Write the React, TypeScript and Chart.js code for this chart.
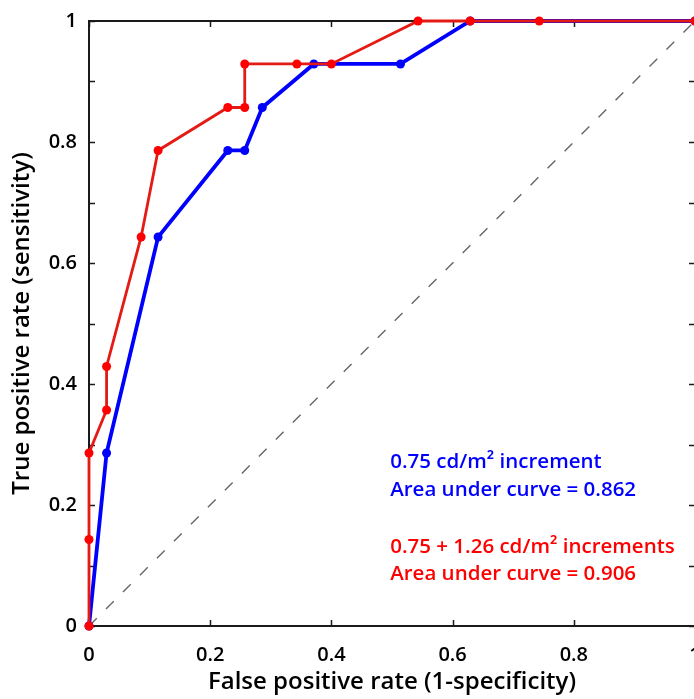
import React, { useEffect, useRef } from 'react';
import { Chart, registerables } from 'chart.js';

Chart.register(...registerables);

// ROC data: false positive rate (x) and true positive rate (y)
const redFPR = [0, 0, 0, 0.029, 0.029, 0.086, 0.114, 0.229, 0.257, 0.257, 0.343, 0.4, 0.543, 0.629, 0.743, 1];
const redTPR = [0, 0.143, 0.286, 0.357, 0.429, 0.643, 0.786, 0.857, 0.857, 0.929, 0.929, 0.929, 1, 1, 1, 1];
const blueFPR = [0, 0.029, 0.114, 0.229, 0.257, 0.286, 0.371, 0.514, 0.629, 1];
const blueTPR = [0, 0.286, 0.643, 0.786, 0.786, 0.857, 0.929, 0.929, 1, 1];
const chanceFPR = [0, 1];
const chanceTPR = [0, 1];

const xMajorTicks = [0, 0.2, 0.4, 0.6, 0.8, 1];
const yMinorTicks = [0, 0.1, 0.2, 0.3, 0.4, 0.5, 0.6, 0.7, 0.8, 0.9, 1];

const blueLabel = ['0.75 cd/m\u00B2 increment', 'Area under curve = 0.862'];
const redLabel = ['0.75 + 1.26 cd/m\u00B2 increments', 'Area under curve = 0.906'];

const xTitle = 'False positive rate (1-specificity)';
const yTitle = 'True positive rate (sensitivity)';

const FONT = "'Open Sans', sans-serif";

const toPoints = (xs: number[], ys: number[]) => xs.map((x, i) => ({ x, y: ys[i] }));

const fmt = (v: number) => {
  const r = Math.round(v * 10) / 10;
  return r === 0 ? '0' : r === 1 ? '1' : String(r);
};

const framePlugin = {
  id: 'frame',
  beforeDatasetsDraw(chart: any) {
    const { ctx, chartArea } = chart;
    const { left, right, top, bottom } = chartArea;
    const xs = chart.scales.x;
    const ys = chart.scales.y;
    ctx.save();
    ctx.strokeStyle = '#1a1a1a';
    ctx.lineWidth = 2;
    ctx.strokeRect(left, top, right - left, bottom - top);
    ctx.lineWidth = 1.5;
    const tl = 6;
    ctx.beginPath();
    xMajorTicks.forEach((v) => {
      const px = Math.round(xs.getPixelForValue(v)) + 0.5;
      ctx.moveTo(px, bottom);
      ctx.lineTo(px, bottom - tl);
      ctx.moveTo(px, top);
      ctx.lineTo(px, top + tl);
    });
    yMinorTicks.forEach((v) => {
      const py = Math.round(ys.getPixelForValue(v)) + 0.5;
      ctx.moveTo(left, py);
      ctx.lineTo(left + tl, py);
      ctx.moveTo(right, py);
      ctx.lineTo(right - tl, py);
    });
    ctx.stroke();
    ctx.restore();
  },
  afterDatasetsDraw(chart: any) {
    const { ctx } = chart;
    const xs = chart.scales.x;
    const ys = chart.scales.y;
    ctx.save();
    ctx.font = `600 20.5px ${FONT}`;
    ctx.textAlign = 'left';
    ctx.textBaseline = 'middle';
    const x0 = xs.getPixelForValue(0.497);
    ctx.fillStyle = '#0000ff';
    ctx.fillText(blueLabel[0], x0, ys.getPixelForValue(0.271));
    ctx.fillText(blueLabel[1], x0, ys.getPixelForValue(0.225));
    ctx.fillStyle = '#ff0000';
    ctx.fillText(redLabel[0], x0, ys.getPixelForValue(0.131));
    ctx.fillText(redLabel[1], x0, ys.getPixelForValue(0.086));
    ctx.restore();
  },
};

export default function App() {
  const ref = useRef<HTMLCanvasElement | null>(null);

  useEffect(() => {
    if (!ref.current) return;
    const chart = new Chart(ref.current, {
      type: 'scatter',
      data: {
        datasets: [
          {
            label: 'red',
            data: toPoints(redFPR, redTPR),
            showLine: true,
            borderColor: '#e41a14',
            borderWidth: 2.8,
            backgroundColor: '#ff0000',
            pointBackgroundColor: '#ff0000',
            pointBorderWidth: 0,
            pointRadius: 4.5,
            clip: false,
          },
          {
            label: 'blue',
            data: toPoints(blueFPR, blueTPR),
            showLine: true,
            borderColor: '#0000ff',
            borderWidth: 3.8,
            backgroundColor: '#0000ff',
            pointBackgroundColor: '#0000ff',
            pointBorderWidth: 0,
            pointRadius: 4.5,
            clip: false,
          },
          {
            label: 'chance',
            data: toPoints(chanceFPR, chanceTPR),
            showLine: true,
            borderColor: '#666',
            borderWidth: 1.4,
            borderDash: [11, 13],
            pointRadius: 0,
            clip: false,
          },
        ],
      },
      options: {
        animation: false,
        responsive: false,
        events: [],
        layout: { padding: { top: 21, right: 25, left: 0, bottom: 0 } },
        plugins: { legend: { display: false }, tooltip: { enabled: false } },
        scales: {
          x: {
            type: 'linear',
            min: 0,
            max: 1,
            position: 'bottom',
            grid: { display: false, drawTicks: false },
            border: { display: false },
            ticks: {
              stepSize: 0.2,
              color: '#000',
              padding: 17,
              font: { family: FONT, size: 20, weight: '600' },
              callback: (v: any) => fmt(Number(v)),
              maxRotation: 0,
              autoSkip: false,
            },
            title: {
              display: true,
              text: xTitle,
              color: '#000',
              font: { family: FONT, size: 24, weight: '600' },
              padding: { top: 0, bottom: 2 },
            },
            afterFit: (s: any) => {
              s.height = 73;
              s.paddingLeft = 0;
              s.paddingRight = 0;
            },
          },
          y: {
            type: 'linear',
            min: 0,
            max: 1,
            position: 'left',
            grid: { display: false, drawTicks: false },
            border: { display: false },
            ticks: {
              stepSize: 0.2,
              color: '#000',
              padding: 12,
              font: { family: FONT, size: 20, weight: '600' },
              callback: (v: any) => fmt(Number(v)),
              autoSkip: false,
            },
            title: {
              display: true,
              text: yTitle,
              color: '#000',
              font: { family: FONT, size: 24, weight: '600' },
              padding: { top: 8, bottom: 0 },
            },
            afterFit: (s: any) => {
              s.width = 89;
              s.paddingTop = 0;
              s.paddingBottom = 0;
            },
          },
        },
      },
      plugins: [framePlugin],
    });
    return () => chart.destroy();
  }, []);

  return (
    <div
      style={{
        position: 'absolute',
        left: 0,
        top: 0,
        width: 694,
        height: 699,
        overflow: 'hidden',
        background: '#fff',
      }}
    >
      <canvas ref={ref} width={720} height={699} style={{ width: 720, height: 699, display: 'block' }} />
    </div>
  );
}
